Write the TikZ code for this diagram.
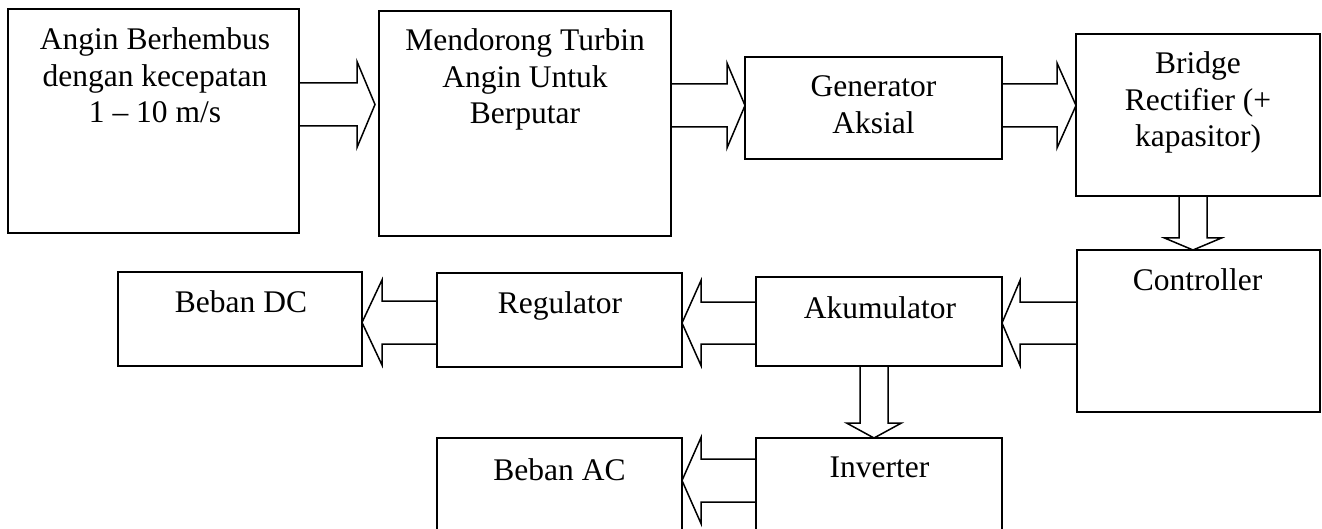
\documentclass[tikz,border=0pt]{standalone}
\usepackage{fontspec}
\setmainfont{Liberation Serif}
\usetikzlibrary{calc}
\tikzset{
  box/.style={draw=black, line width=1.6pt, rectangle, inner sep=0pt, outer sep=0pt},
  conn/.style={draw=black, line width=1.5pt, line join=miter},
  lbl/.style={font=\fontsize{31.5}{36.5}\selectfont, align=center, inner sep=0pt, anchor=north, text=black}
}
% right-pointing block arrow: from, to, y-centre, half shaft, half head, head length, gap
\newcommand\arrR[7]{%
  \coordinate (S) at (#1.east |- 0,#3);
  \coordinate (T) at ($(#2.west |- 0,#3)+(-#7,0)$);
  \draw[conn] ($(S)+(0,-#4)$) -- ($(T)+(-#6,-#4)$) -- ($(T)+(-#6,-#5)$) -- (T)
     -- ($(T)+(-#6,#5)$) -- ($(T)+(-#6,#4)$) -- ($(S)+(0,#4)$);}
% left-pointing block arrow
\newcommand\arrL[7]{%
  \coordinate (S) at (#1.west |- 0,#3);
  \coordinate (T) at ($(#2.east |- 0,#3)+(#7,0)$);
  \draw[conn] ($(S)+(0,-#4)$) -- ($(T)+(#6,-#4)$) -- ($(T)+(#6,-#5)$) -- (T)
     -- ($(T)+(#6,#5)$) -- ($(T)+(#6,#4)$) -- ($(S)+(0,#4)$);}
% down-pointing block arrow
\newcommand\arrD[7]{%
  \coordinate (S) at (#1.south -| #3,0);
  \coordinate (T) at ($(#2.north -| #3,0)+(0,-#7)$);
  \draw[conn] ($(S)+(-#4,0)$) -- ($(T)+(-#4,-#6)$) -- ($(T)+(-#5,-#6)$) -- (T)
     -- ($(T)+(#5,-#6)$) -- ($(T)+(#4,-#6)$) -- ($(S)+(#4,0)$);}
\begin{document}
\begin{tikzpicture}[x=1pt,y=-1pt]
\useasboundingbox (0,0) rectangle (1322,529);
\fill[white] (0,0) rectangle (1322,529);
\clip (0,0) rectangle (1322,529);
% boxes
\node[box, minimum width=291pt, minimum height=224pt] (b1) at (153.5,121) {};
\node[box, minimum width=292pt, minimum height=225pt] (b2) at (525,123.5) {};
\node[box, minimum width=257pt, minimum height=102pt] (b3) at (873.5,108) {};
\node[box, minimum width=244pt, minimum height=162pt] (b4) at (1198,115) {};
\node[box, minimum width=243pt, minimum height=162pt] (ctrl) at (1198.5,331) {};
\node[box, minimum width=246pt, minimum height=89pt] (akum) at (879,321.5) {};
\node[box, minimum width=245pt, minimum height=94pt] (reg) at (559.5,320) {};
\node[box, minimum width=244pt, minimum height=94pt] (dc) at (240,319) {};
\node[box, minimum width=246pt, minimum height=162pt] (inv) at (879,519) {};
\node[box, minimum width=245pt, minimum height=162pt] (ac) at (559.5,519) {};
% texts
\node[lbl] (t1) at (155,27.5) {Angin Berhembus\\dengan kecepatan\\1 – 10 m/s};
\node[lbl] (t2) at (525,28.5) {Mendorong Turbin\\Angin Untuk\\Berputar};
\node[lbl] (t3) at (873.5,75.5) {Generator\\Aksial};
\node[lbl] (t4) at (1198,51.5) {Bridge\\Rectifier (+\\kapasitor)};
\node[lbl] (t5) at (1197.5,268.5) {Controller};
\node[lbl] (t6) at (880,296.5) {Akumulator};
\node[lbl] (t7) at (560,291.5) {Regulator};
\node[lbl] (t8) at (241,290.5) {Beban DC};
\node[lbl] (t9) at (879.5,457) {Inverter};
\node[lbl] (t10) at (559.5,458.5) {Beban AC};
% block arrows
\arrR{b1}{b2}{104.5}{21.5}{43}{18}{4}
\arrR{b2}{b3}{105.5}{21.5}{42.5}{18}{0}
\arrR{b3}{b4}{105.5}{21.5}{42.5}{19}{0}
\arrD{b4}{ctrl}{1193}{14}{28.5}{12}{0}
\arrL{ctrl}{akum}{323}{21}{42.5}{18}{0}
\arrL{akum}{reg}{323}{21}{42.5}{19}{0}
\arrL{reg}{dc}{322.5}{21.5}{42.5}{20}{0}
\arrD{akum}{inv}{874}{14}{27.5}{15}{0}
\arrL{inv}{ac}{480.5}{21.5}{43}{19}{0}
\end{tikzpicture}
\end{document}
